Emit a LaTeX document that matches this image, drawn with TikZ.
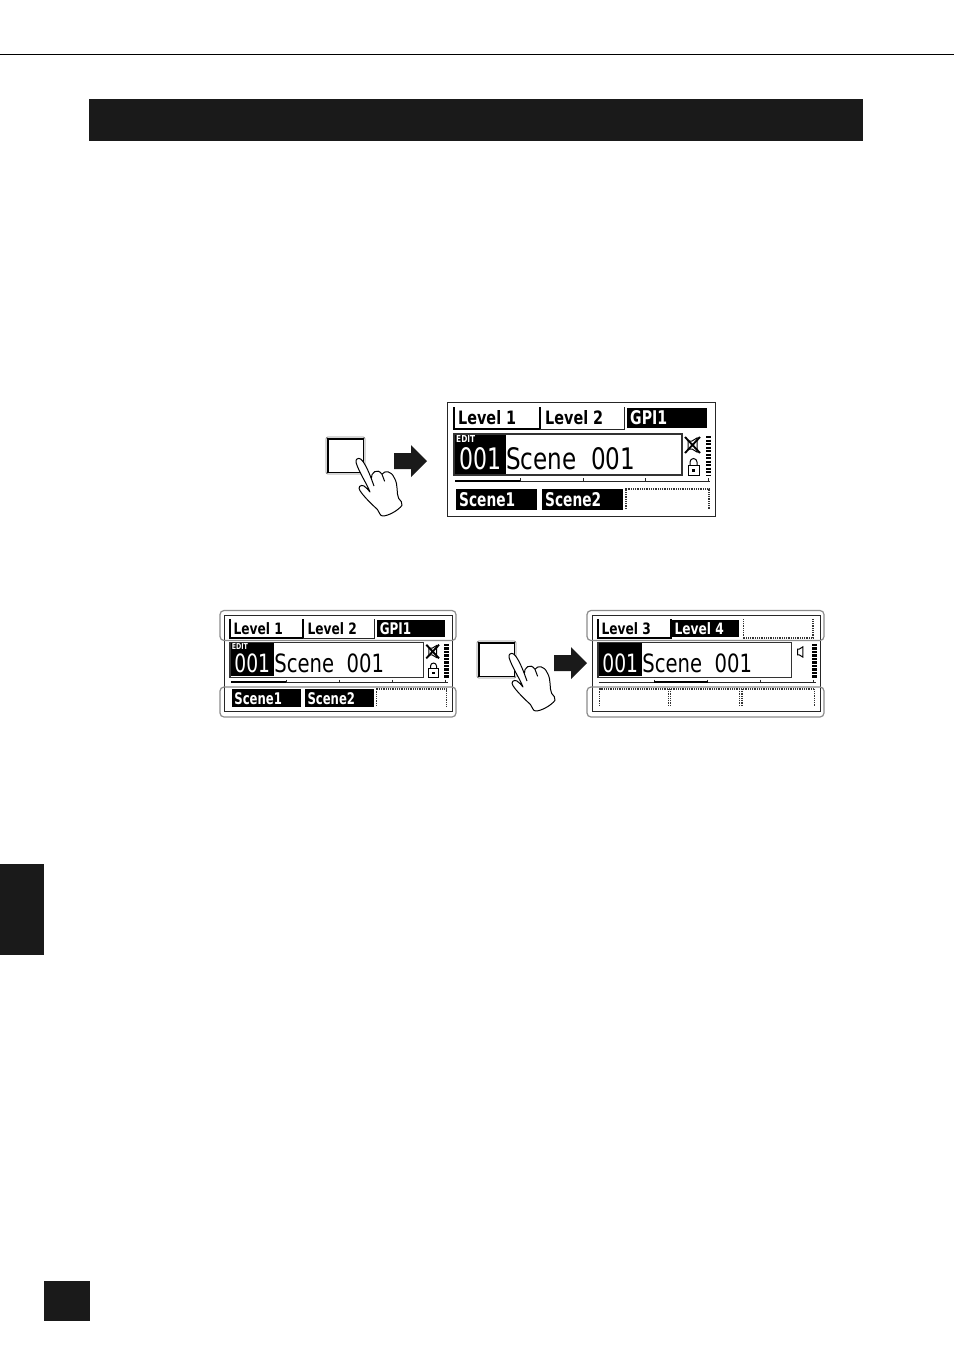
\documentclass[tikz,border=0pt]{standalone}
\usepackage{graphicx}
\usepackage{fontspec}
\newfontfamily\lcdbold{DejaVu Sans Bold}
\newfontfamily\lcdreg{DejaVu Sans}
\definecolor{ink}{HTML}{1A1A1A}
\definecolor{halo}{HTML}{8C8C8C}
\newcommand\lcdS{1}
\newcommand\fitb[3]{\resizebox{\lcdS\dimexpr #1pt\relax}{\lcdS\dimexpr #2pt\relax}{\lcdbold #3}}
\newcommand\fitr[3]{\resizebox{\lcdS\dimexpr #1pt\relax}{\lcdS\dimexpr #2pt\relax}{\lcdreg #3}}
\tikzset{
  blk/.style={fill=black,draw=none},
  txt/.style={inner sep=0pt,anchor=west,text=black},
  txtw/.style={inner sep=0pt,anchor=west,text=white},
  thickln/.style={line width=1.9pt,draw=black},
  thinln/.style={line width=.8pt,draw=black!85},
  dots/.style={line width=1.1pt,draw=black!80,dash pattern=on .9pt off .9pt},
  halobox/.style={draw=halo,line width=1.2pt,rounded corners=4pt},
  pointer/.style={fill=white,draw=black,line width=1pt,line join=round}
}
% common parts of the display, in the large display's own coordinates
\newcommand\lcdcommon[1]{%
  \draw[line width=1pt,draw=black!85] (0,0) rectangle (268.5,114);
  \fill[black] (8,33) rectangle (59,72);
  \draw[line width=1.1pt,draw=black!80] (7,32) rectangle (235,73);
  \node[txtw] (#1num) at (12,57) {\fitr{42}{22}{001}};
  \node[txt] (#1name) at (59,57) {\fitr{129}{22}{Scene\ \ 001}};
  \draw[line width=5pt,draw=black,dash pattern=on 2.2pt off 1.3pt] (261.5,34) -- (261.5,74);
  \draw[thinln] (8,79) -- (263,79);
  \foreach \t in {73,136,198,261} \draw[thinln] (\t,76) -- (\t,79);
}
\newcommand\levelA[3]{% first tab + second tab
  \draw[thickln] (7,5) -- (7,27) -- (93,27);
  \draw[thickln] (93,5) -- (93,28);
  \node[txt] (#1t1) at (11,16) {\fitb{58}{14}{#2}};
}
\newcommand\pointerhand[1]{%
 \begin{scope}[shift={#1},x=.3333pt,y=-.3333pt]
  \draw[pointer] (108,97) .. controls (106,88) and (114,82) .. (122,87)
    .. controls (134,97) and (146,125) .. (154,146)
    .. controls (152,128) and (172,112) .. (186,133)
    .. controls (194,120) and (214,122) .. (223,144)
    .. controls (236,165) and (228,190) .. (236,205)
    .. controls (242,212) and (248,218) .. (246,226)
    .. controls (236,240) and (206,258) .. (188,258)
    .. controls (180,258) and (178,246) .. (172,238)
    .. controls (154,222) and (130,198) .. (120,182)
    .. controls (112,172) and (122,162) .. (132,168)
    .. controls (138,172) and (146,180) .. (150,186)
    .. controls (140,160) and (116,125) .. (108,97) -- cycle;
  \draw[pointer] (154,146) -- (162,168);
  \draw[pointer] (186,133) -- (194,154);
 \end{scope}
}
\newcommand\pushbutton[1]{%
 \begin{scope}[shift={#1}]
  \draw[draw=halo,line width=.9pt,rounded corners=2pt] (0,0) rectangle (39,37);
  \draw[draw=black,line width=1.4pt] (1.8,1.8) rectangle (37.2,35.2);
 \end{scope}
}
\newcommand\bigarrow[1]{%
 \fill[ink,shift={#1}] (0,-8) -- (17,-8) -- (17,-16) -- (33,0) -- (17,16) -- (17,8) -- (0,8) -- cycle;
}
\newcommand\muteicon{%
  \draw[line width=1pt,draw=black,line join=miter] (241,39) -- (241,47) -- (245,47) -- (250,50) -- (250,36) -- (245,39) -- cycle;
  \draw[line width=1.9pt,draw=black] (238,35) -- (253,51) (253,35) -- (238,51);
  \draw[line width=1pt,draw=black] (241,63) rectangle (252,73);
  \draw[line width=1pt,draw=black] (243,63) -- (243,60) arc[start angle=180,end angle=360,radius=3.5] -- (250,63);
  \fill[black] (245,66.5) rectangle (248,69.5);
}
\begin{document}
\begin{tikzpicture}[x=1pt,y=-1pt]
\useasboundingbox (0,0) rectangle (954,1350);
\fill[white] (0,0) rectangle (954,1350);
% page furniture
\draw[line width=.8pt,draw=black] (0,54.5) -- (954,54.5);
\fill[ink] (89,99) rectangle (863,141);
\fill[ink] (0,864) rectangle (44,955);
\fill[ink] (44,1281) rectangle (90,1321);

% ---------- upper figure
\pushbutton{(326,437)}
\pointerhand{(320,430)}
\bigarrow{(394,461)}
\begin{scope}[shift={(447,402)},x=1pt,y=-1pt]
  \renewcommand\lcdS{1}
  \lcdcommon{a}
  \node[txtw] (aedit) at (9,37) {\fitb{19}{7}{EDIT}};
  \levelA{a}{Level 1}{}
  \draw[thinln] (93,27) -- (177,27) -- (177,5);
  \node[txt] (at2) at (98,16) {\fitb{58}{14}{Level 2}};
  \fill[black] (180,6) rectangle (260,26);
  \node[txtw] (at3) at (183,16) {\fitb{37}{14}{GPI1}};
  \muteicon
  \draw[line width=2pt,draw=black] (8,79) -- (73,79);
  \fill[black] (9,87) rectangle (90,108);
  \fill[black] (95,87) rectangle (176,108);
  \node[txtw] (as1) at (12,98) {\fitb{56}{14}{Scene1}};
  \node[txtw] (as2) at (98,98) {\fitb{56}{14}{Scene2}};
  \draw[dots] (179,107) -- (179,87) -- (262,87) -- (262,107);
\end{scope}

% ---------- lower left display
\begin{scope}[shift={(224,615)},x=.85pt,y=-.85pt]
  \renewcommand\lcdS{.85}
  \lcdcommon{b}
  \node[txtw] (bedit) at (9,37) {\fitb{19}{7}{EDIT}};
  \levelA{b}{Level 1}{}
  \draw[thinln] (93,27) -- (177,27) -- (177,5);
  \node[txt] (bt2) at (98,16) {\fitb{58}{14}{Level 2}};
  \fill[black] (180,6) rectangle (260,26);
  \node[txtw] (bt3) at (183,16) {\fitb{37}{14}{GPI1}};
  \muteicon
  \draw[line width=1.8pt,draw=black] (8,79) -- (73,79);
  \fill[black] (9,87) rectangle (90,108);
  \fill[black] (95,87) rectangle (176,108);
  \node[txtw] (bs1) at (12,98) {\fitb{56}{14}{Scene1}};
  \node[txtw] (bs2) at (98,98) {\fitb{56}{14}{Scene2}};
  \draw[dots] (179,107) -- (179,87) -- (262,87) -- (262,107);
\end{scope}
\draw[halobox] (220,610.5) rectangle (456,640.5);
\draw[halobox] (220,687) rectangle (456,717);

% ---------- lower right display
\pushbutton{(477,641)}
\pointerhand{(473,625)}
\bigarrow{(554,663)}
\begin{scope}[shift={(592,615)},x=.85pt,y=-.85pt]
  \renewcommand\lcdS{.85}
  \lcdcommon{c}
  \levelA{c}{Level 3}{}
  \fill[black] (93,6) rectangle (173,26);
  \node[txtw] (ct2) at (97,16) {\fitb{58}{14}{Level 4}};
  \draw[dots] (178,5) -- (178,27) -- (260,27) -- (260,5);
  \draw[line width=1pt,draw=black,line join=miter] (242,40) -- (242,47) -- (244,47) -- (248,49.5) -- (248,37.5) -- (244,40) -- cycle;
  \draw[line width=1.8pt,draw=black] (73,79) -- (136,79);
  \draw[dots] (9,107) -- (9,87) -- (262,87) -- (262,107);
  \draw[dots] (90,87) -- (90,107) (92.5,87) -- (92.5,107);
  \draw[dots] (174,87) -- (174,107) (176.5,87) -- (176.5,107);
\end{scope}
\draw[halobox] (587,610.5) rectangle (824,640.5);
\draw[halobox] (587,687) rectangle (824,717);
\end{tikzpicture}
\end{document}
